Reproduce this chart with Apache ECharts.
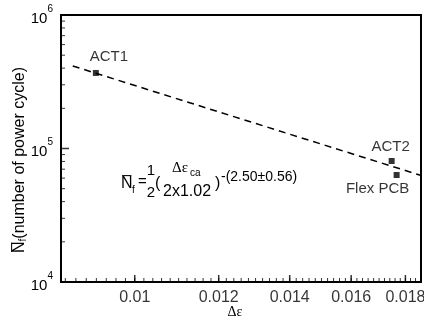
<!DOCTYPE html>
<html><head><meta charset="utf-8">
<script src="https://cdn.jsdelivr.net/npm/echarts@6/dist/echarts.min.js"></script>
<style>html,body{margin:0;padding:0;background:#fff}#c{width:424px;height:318px}</style>
</head><body><div id="c"></div>
<script>
// ---- data ----
const pointNames = ['ACT1', 'ACT2', 'Flex PCB'];
const deltaEps = [0.00919, 0.01747, 0.01766];
const cycles = [368000, 80600, 63300];
const fitEps = [0.00874, 0.0186];
const fitCycles = [415000, 63000];
const xTickLabels = [0.01, 0.012, 0.014, 0.016, 0.018];
const yTickLabels = [10000, 100000, 1000000];
const xMin = 0.00852, xMax = 0.01862;
const yMin = 10000, yMax = 1000000;

// minor tick positions
const xMinor = [];
for (let k = 43; k <= 93; k++) xMinor.push(+(k * 0.0002).toFixed(4));
const yMinor = [];
[10000, 100000].forEach(d => { for (let m = 2; m <= 9; m++) yMinor.push(m * d); });

const L = Math.log10;
const FONT = 'Liberation Sans';
const chart = echarts.init(document.getElementById('c'), null, {renderer: 'canvas'});
function hiddenAxis(type, lo, hi, pos) {
  return {type: type, logBase: 10, min: lo, max: hi, position: pos,
    axisLine: {show: false, onZero: false}, axisTick: {show: false}, axisLabel: {show: false}, splitLine: {show: false}};
}
// tick marks drawn as thin rectangles placed by the log scales
function tickSeries(data, size, offset) {
  return {type: 'scatter', xAxisIndex: 0, yAxisIndex: 0, symbol: 'rect', symbolSize: size, symbolOffset: offset,
    clip: false, silent: true, z: 5, itemStyle: {color: '#000'}, data: data};
}
const option = {
  animation: false,
  backgroundColor: '#fff',
  grid: {left: 61, top: 15, right: 3, bottom: 36, show: true, borderColor: '#000', borderWidth: 2},
  xAxis: [
    hiddenAxis('log', xMin, xMax, 'top'),
    {type: 'value', min: L(xMin), max: L(xMax), position: 'bottom',
     axisLine: {show: true, onZero: false, lineStyle: {color: '#000', width: 2}}, splitLine: {show: false},
     axisLabel: {show: false}, axisTick: {show: false}}
  ],
  yAxis: [
    hiddenAxis('log', yMin, yMax, 'right'),
    {type: 'value', min: L(yMin), max: L(yMax), interval: 1, position: 'left',
     axisLine: {show: true, onZero: false, lineStyle: {color: '#000', width: 2}}, splitLine: {show: false},
     axisTick: {show: false},
     axisLabel: {show: true, margin: 8, color: '#000', fontFamily: FONT,
       formatter: v => '{b|10}{s|' + Math.round(v) + '}',
       rich: {b: {fontSize: 15, fontFamily: FONT, color: '#000', lineHeight: 22, verticalAlign: 'bottom'},
              s: {fontSize: 10, fontFamily: FONT, color: '#000', lineHeight: 22, verticalAlign: 'top'}}}}
  ],
  series: [
    {type: 'line', xAxisIndex: 0, yAxisIndex: 0, symbol: 'none',
     lineStyle: {color: '#000', width: 1.5, type: [7, 5]},
     data: fitEps.map((x, i) => [x, fitCycles[i]])},
    {type: 'scatter', xAxisIndex: 0, yAxisIndex: 0, symbol: 'rect', symbolSize: 6,
     itemStyle: {color: '#000'},
     data: deltaEps.map((x, i) => {
       const offs = [[13, -16], [-1, -14], [-19, 14]];
       return {value: [x, cycles[i]], name: pointNames[i],
         label: {show: true, position: 'inside', offset: offs[i], formatter: pointNames[i],
           color: '#000', textBorderWidth: 0, fontFamily: FONT, fontSize: 15}};
     })},
    // x tick labels, placed by the log x scale
    {type: 'scatter', xAxisIndex: 0, yAxisIndex: 0, symbol: 'circle', symbolSize: 1, clip: false, silent: true,
     itemStyle: {color: 'transparent'},
     label: {show: true, position: 'bottom', distance: 7, color: '#000', fontFamily: FONT, fontSize: 16,
       formatter: p => String(p.value[0])},
     data: xTickLabels.map(v => [v, yMin])},
    // tick marks
    tickSeries(xTickLabels.map(v => [v, yMin]), [1.5, 7], [0, -3.5]),
    tickSeries(xMinor.map(v => [v, yMin]), [1, 4], [0, -2]),
    tickSeries(yTickLabels.map(v => [xMin, v]), [8, 1.5], [4, 0]),
    tickSeries(yMinor.map(v => [xMin, v]), [4, 1], [2, 0])
  ],
  graphic: [
    {type: 'text', x: 18, y: 160, rotation: Math.PI / 2, silent: true,
     style: {text: '{n|N\u0305}{f|f}{t|(number of power cycle)}', align: 'center', verticalAlign: 'middle',
       rich: {n: {fontSize: 16, fontFamily: FONT, color: '#000', verticalAlign: 'bottom', lineHeight: 20},
              f: {fontSize: 10, fontFamily: FONT, color: '#000', verticalAlign: 'bottom', lineHeight: 16},
              t: {fontSize: 16, fontFamily: FONT, color: '#000', verticalAlign: 'bottom', lineHeight: 20}}}},
    {type: 'text', x: 235, y: 312, style: {text: '\u0394\u03b5', fill: '#000', font: '14px Liberation Serif', align: 'center', verticalAlign: 'middle'}},
    {type: 'text', x: 121, y: 184, style: {text: 'N\u0305', fill: '#000', font: '16px ' + FONT, verticalAlign: 'middle'}},
    {type: 'text', x: 132, y: 190, style: {text: 'f', fill: '#000', font: '10px ' + FONT, verticalAlign: 'middle'}},
    {type: 'text', x: 138, y: 182, style: {text: '=', fill: '#000', font: '15px ' + FONT, verticalAlign: 'middle'}},
    {type: 'text', x: 151, y: 171, style: {text: '1', fill: '#000', font: '15px ' + FONT, align: 'center', verticalAlign: 'middle'}},
    {type: 'text', x: 151, y: 193, style: {text: '2', fill: '#000', font: '15px ' + FONT, align: 'center', verticalAlign: 'middle'}},
    {type: 'text', x: 155, y: 184, style: {text: '(', fill: '#000', font: '16px ' + FONT, verticalAlign: 'middle'}},
    {type: 'text', x: 172, y: 168, style: {text: '\u0394\u03b5', fill: '#000', font: '15px Liberation Serif', verticalAlign: 'middle'}},
    {type: 'text', x: 190, y: 173, style: {text: 'ca', fill: '#000', font: '10px ' + FONT, verticalAlign: 'middle'}},
    {type: 'text', x: 163, y: 192, style: {text: '2x1.02', fill: '#000', font: '16px ' + FONT, verticalAlign: 'middle'}},
    {type: 'text', x: 215, y: 184, style: {text: ')', fill: '#000', font: '16px ' + FONT, verticalAlign: 'middle'}},
    {type: 'text', x: 221, y: 177, style: {text: '-(2.50\u00b10.56)', fill: '#000', font: '14px ' + FONT, verticalAlign: 'middle'}}
  ]
};
chart.setOption(option);
</script></body></html>
